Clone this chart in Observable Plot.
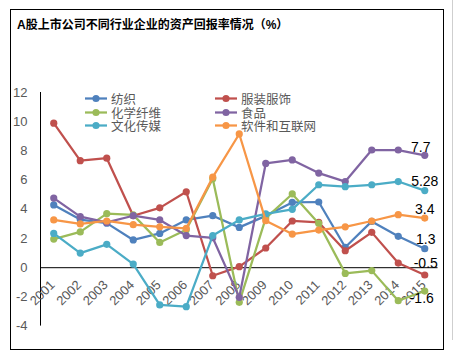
<!DOCTYPE html>
<html><head><meta charset="utf-8">
<script src="https://cdn.jsdelivr.net/npm/d3@7"></script>
<script src="https://cdn.jsdelivr.net/npm/@observablehq/plot@0.6"></script>
<style>
body{margin:0;background:#fff;}
#wrap{position:relative;width:454px;height:360px;overflow:hidden;background:#fff;font-family:"Liberation Sans","Noto Sans CJK SC",sans-serif;}
#border{position:absolute;left:10px;top:9px;width:434px;height:341px;border:1px solid #000;box-sizing:border-box;}
#edge{position:absolute;left:452px;top:0;width:1px;height:340px;background:#cfcfcf;}
#title{position:absolute;left:17px;top:17px;font-size:12px;line-height:16px;font-weight:bold;color:#000;font-family:"Liberation Sans","Noto Sans CJK SC",sans-serif;white-space:nowrap;}
#chart{position:absolute;left:0;top:0;}
.leg{position:absolute;display:flex;align-items:center;height:13px;font-size:12.5px;line-height:13px;color:#595959;font-family:"Noto Sans CJK SC",sans-serif;white-space:nowrap;}
.leg svg{margin-right:3px;}
</style>
</head><body>
<div id="wrap">
  <div id="border"></div>
  <div id="edge"></div>
  <div id="chart"></div>
  <div id="title">A股上市公司不同行业企业的资产回报率情况（%）</div>
  <div id="legend"></div>
</div>
<script>
const years = [2001,2002,2003,2004,2005,2006,2007,2008,2009,2010,2011,2012,2013,2014,2015];
const seriesNames = ["纺织","服装服饰","化学纤维","食品","文化传媒","软件和互联网"];
const seriesColors = ["#4F81BD","#C0504D","#9BBB59","#8064A2","#4BACC6","#F79646"];
const textile   = [4.3, 3.3, 3.05, 1.9, 2.35, 3.27, 3.56, 2.76, 3.55, 4.47, 4.5, 1.4, 3.17, 2.15, 1.3];
const apparel   = [9.9, 7.33, 7.5, 3.56, 4.1, 5.2, -0.55, 0.07, 1.35, 3.2, 3.1, 1.16, 2.42, 0.32, -0.5];
const fiber     = [1.96, 2.45, 3.7, 3.62, 1.73, 2.6, 6.1, -2.37, 3.4, 5.05, 3.03, -0.39, -0.2, -2.26, -1.6];
const food      = [4.77, 3.5, 3.1, 3.56, 3.27, 2.2, 2.05, -2.03, 7.14, 7.38, 6.48, 5.9, 8.06, 8.06, 7.7];
const media     = [2.35, 1.0, 1.6, 0.25, -2.55, -2.67, 2.2, 3.27, 3.68, 4.0, 5.68, 5.55, 5.68, 5.9, 5.28];
const software  = [3.27, 3.0, 3.2, 2.95, 2.8, 2.7, 6.2, 9.16, 3.22, 2.3, 2.58, 2.8, 3.2, 3.63, 3.4];
const endLabels = ["1.3", "-0.5", "-1.6", "7.7", "5.28", "3.4"];
const yTicks = [-4,-2,0,2,4,6,8,10,12];
const xTickLabels = years.map(String);

const seriesValues = [textile, apparel, fiber, food, media, software];
const rows = seriesNames.map((name, s) => years.map((yr, i) => ({series: name, year: yr, value: seriesValues[s][i]})));

// label offsets (screen px) per series for the 2015 data labels
const labelOffsets = [[1,-9],[1,-11],[-3,7],[-4,-8],[0,-9],[0,-9]];

const marks = [
  Plot.ruleY([0], {stroke: "#000", strokeWidth: 1}),
  Plot.ruleX([2000.5], {stroke: "#000", strokeWidth: 1}),
  Plot.axisY({ticks: yTicks, tickSize: 0, tickPadding: 13, fontSize: 13, tickFormat: d => String(d), label: null}),
  Plot.text(years, {x: d => d, y: 0, text: (d, i) => xTickLabels[i], rotate: -45, textAnchor: "end", lineAnchor: "middle", dx: -1, dy: 15, fontSize: 13, fill: "#595959"})
];
rows.forEach((data, s) => {
  marks.push(Plot.line(data, {x: "year", y: "value", stroke: seriesColors[s], strokeWidth: 2.25}));
  marks.push(Plot.dot(data, {x: "year", y: "value", fill: seriesColors[s], r: 3.6, stroke: "none"}));
});
rows.forEach((data, s) => {
  const last = data[data.length - 1];
  marks.push(Plot.text([last], {x: "year", y: "value", text: () => endLabels[s], dx: labelOffsets[s][0], dy: labelOffsets[s][1], fontSize: 14, fill: "#000"}));
});

const chart = Plot.plot({
  width: 454, height: 360,
  marginLeft: 40, marginRight: 16.5, marginTop: 92, marginBottom: 34.4,
  x: {domain: [2000.5, 2015.5], axis: null},
  y: {domain: [-4, 12], axis: null},
  style: {background: "transparent", color: "#595959", fontFamily: "Liberation Sans, Noto Sans CJK SC, sans-serif", overflow: "visible"},
  marks
});
document.getElementById("chart").appendChild(chart);

// legend
const legendPos = [[85,98],[215,98],[85,112],[215,112],[85,125],[215,125]];
const legend = d3.select("#legend");
seriesNames.forEach((name, s) => {
  const item = legend.append("div").attr("class", "leg")
    .style("left", legendPos[s][0] + "px").style("top", (legendPos[s][1] - 6.5) + "px");
  const sv = item.append("svg").attr("width", 23).attr("height", 13);
  sv.append("line").attr("x1", 0).attr("x2", 22).attr("y1", 6.5).attr("y2", 6.5).attr("stroke", seriesColors[s]).attr("stroke-width", 2.25);
  sv.append("circle").attr("cx", 11).attr("cy", 6.5).attr("r", 3.6).attr("fill", seriesColors[s]);
  item.append("span").text(name);
});
</script>
</body></html>
